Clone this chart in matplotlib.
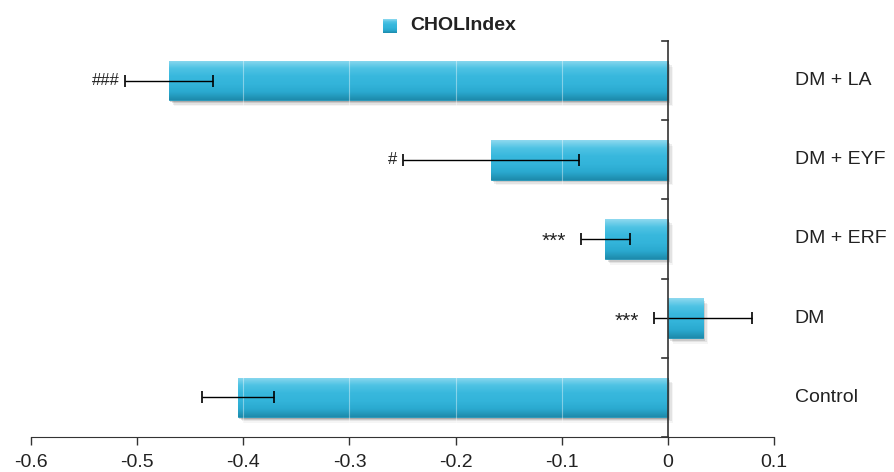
import numpy as np
import matplotlib.pyplot as plt
from matplotlib.colors import LinearSegmentedColormap
from matplotlib import font_manager

groups = ["Control", "DM", "DM + ERF", "DM + EYF", "DM + LA"]
chol_index = [-0.405, 0.033, -0.059, -0.167, -0.470]
chol_err = [0.034, 0.046, 0.023, 0.083, 0.041]
signif = ["", "***", "***", "#", "###"]
x_ticks = [-0.6, -0.5, -0.4, -0.3, -0.2, -0.1, 0.0, 0.1]
x_tick_labels = ["-0.6", "-0.5", "-0.4", "-0.3", "-0.2", "-0.1", "0", "0.1"]

plt.rcParams['font.family'] = ['Liberation Sans', 'DejaVu Sans']
names = {f.name for f in font_manager.fontManager.ttflist}
narrow = 'Liberation Sans Narrow' if 'Liberation Sans Narrow' in names else 'Liberation Sans'

fig = plt.figure(figsize=(8.94, 4.72), dpi=100)
ax = fig.add_axes([0.0347, 1 - 437 / 472, 0.8311, (437 - 41) / 472])

ypos = np.arange(len(groups))
bar_h = 0.5
bars = ax.barh(ypos, chol_index, height=bar_h, color="#31b1d5",
               edgecolor="#2496b8", linewidth=0.6, zorder=3)

# glossy vertical gradient on each bar
cmap = LinearSegmentedColormap.from_list(
    "gloss", ["#1d8aab", "#2aa9cf", "#33b4da", "#38b8dd", "#4fc3e4", "#8fd9ef"])
grad = np.linspace(0, 1, 256).reshape(-1, 1)
for b in bars:
    x0, y0 = b.get_x(), b.get_y()
    w, h = b.get_width(), b.get_height()
    im = ax.imshow(grad, extent=[x0, x0 + w, y0, y0 + h], origin="lower",
                   cmap=cmap, aspect="auto", zorder=3.5)
    im.set_clip_path(b)
    # soft drop shadow
    for k, a in zip(range(1, 5), [0.16, 0.11, 0.07, 0.04]):
        ax.add_patch(plt.Rectangle((x0 + 0.0012 * k, y0 - 0.018 * k), w, h,
                                   color="black", alpha=a, lw=0, zorder=2))

# faint grid lines showing through the bars
for xt in x_ticks[1:-2]:
    ax.axvline(xt, color="white", alpha=0.4, lw=0.8, zorder=4)

ax.errorbar(chol_index, ypos, xerr=chol_err, fmt="none", ecolor="black",
            elinewidth=1.0, capsize=4, capthick=1.2, zorder=5)

# significance marks to the left of each error bar
for i, (v, e, s) in enumerate(zip(chol_index, chol_err, signif)):
    if s:
        star = s.startswith("*")
        ax.annotate(s, xy=(v - e, i), xytext=(-11 if star else -4, -2 if star else 0),
                    textcoords="offset points", ha="right", va="center",
                    fontsize=15 if star else 12, color="#222222", zorder=6)

# group names to the right of the plot area
for i, g in enumerate(groups):
    ax.annotate(g, xy=(0.1, i), xytext=(15, 0), textcoords="offset points",
                ha="left", va="center", fontsize=14, color="#222222",
                annotation_clip=False)

ax.set_xlim(-0.6, 0.1)
ax.set_ylim(-0.5, len(groups) - 0.5)
ax.set_xticks(x_ticks)
ax.set_xticklabels(x_tick_labels)
ax.tick_params(axis="x", direction="out", length=5.5, width=1, color="#333333",
               pad=7, labelcolor="#222222", labelsize=14)
for lab in ax.get_xticklabels():
    lab.set_family(narrow)

for sp in ["top", "right", "left"]:
    ax.spines[sp].set_visible(False)
ax.spines["bottom"].set_color("#333333")
ax.spines["bottom"].set_position(("data", -0.5))
ax.set_yticks([])

# vertical axis at x = 0 with category boundary ticks
ax.plot([0, 0], [-0.5, len(groups) - 0.5], color="#333333", lw=1.2,
        zorder=6, clip_on=False)
for yb in np.arange(-0.5, len(groups), 1.0):
    ax.plot([-0.006, 0], [yb, yb], color="#333333", lw=1.2, zorder=6,
            clip_on=False)

# legend
lx, ly, ls = 383 / 894, 1 - 33 / 472, 14
key = fig.add_axes([lx, ly, ls / 894, ls / 472])
key.imshow(grad, cmap=cmap, origin="lower", aspect="auto")
key.set_axis_off()
fig.text(410 / 894, 1 - 26 / 472, "CHOLIndex", ha="left", va="center",
         fontsize=14, fontweight="bold", color="#222222")

fig.savefig("out.png", dpi=100)
